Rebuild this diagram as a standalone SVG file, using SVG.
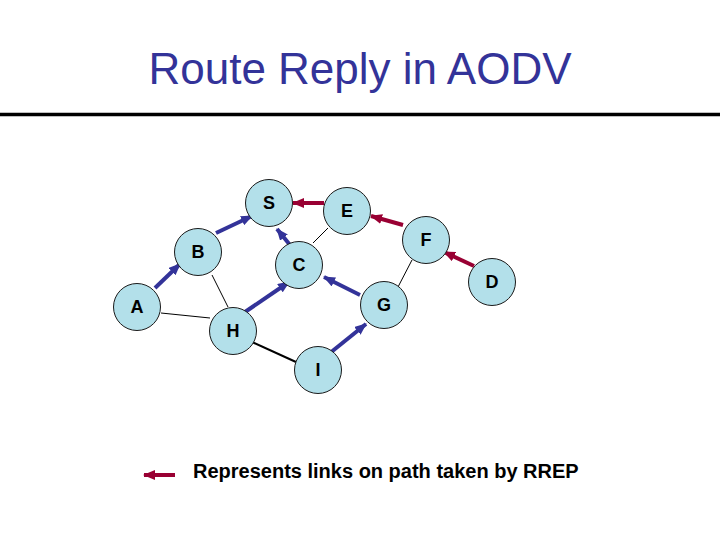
<svg xmlns="http://www.w3.org/2000/svg" width="720" height="540" viewBox="0 0 720 540">
<style>
.node circle{fill:#b3e0ea;stroke:#1a1a1a;stroke-width:1}
.node text{font-family:"Liberation Sans",Arial,sans-serif;font-weight:bold;font-size:18px;fill:#000;text-anchor:middle}
.thin{stroke:#000;stroke-width:1;fill:none}
.blue{stroke:#333399;stroke-width:4;fill:none;marker-end:url(#hb)}
.red{stroke:#990033;stroke-width:4;fill:none;marker-end:url(#hr)}
</style>
<defs>
<marker id="hb" markerUnits="userSpaceOnUse" markerWidth="12" markerHeight="10" refX="11" refY="5" orient="auto"><path d="M0,0 L12,5 L0,10 z" fill="#333399"/></marker>
<marker id="hr" markerUnits="userSpaceOnUse" markerWidth="12" markerHeight="10" refX="11" refY="5" orient="auto"><path d="M0,0 L12,5 L0,10 z" fill="#990033"/></marker>
</defs>
<rect width="720" height="540" fill="#fff"/>
<text x="360" y="84" font-family="Liberation Sans,Arial,sans-serif" font-size="44" fill="#333399" text-anchor="middle">Route Reply in AODV</text>
<line x1="0" y1="114.5" x2="720" y2="114.5" stroke="#000" stroke-width="3.5"/>
<g id="connectors">
<line class="thin" x1="328" y1="228" x2="313" y2="243"/>
<line class="thin" x1="212" y1="275" x2="228" y2="307"/>
<line class="thin" x1="161" y1="313" x2="210" y2="318"/>
<line class="thin" x1="412" y1="260" x2="398" y2="287"/>
<line x1="252" y1="342" x2="296" y2="362" stroke="#000" stroke-width="2"/>
<line class="red" x1="324" y1="203" x2="293" y2="203"/>
<line class="red" x1="403" y1="225" x2="371" y2="216"/>
<line class="red" x1="474" y1="266" x2="444" y2="252"/>
<line class="blue" x1="216" y1="233" x2="252" y2="216"/>
<line class="blue" x1="290" y1="245" x2="277" y2="229"/>
<line class="blue" x1="155" y1="288" x2="180" y2="264"/>
<line class="blue" x1="245" y1="312" x2="289" y2="282"/>
<line class="blue" x1="360" y1="295" x2="324" y2="277"/>
<line class="blue" x1="330" y1="353" x2="366" y2="324"/>
</g>
<g id="S" class="node"><circle cx="269" cy="203" r="23.5"/><text x="269" y="209">S</text></g>
<g id="E" class="node"><circle cx="347" cy="211" r="23.5"/><text x="347" y="217">E</text></g>
<g id="F" class="node"><circle cx="426" cy="240" r="23.5"/><text x="426" y="246">F</text></g>
<g id="B" class="node"><circle cx="198" cy="252" r="23.5"/><text x="198" y="258">B</text></g>
<g id="C" class="node"><circle cx="299" cy="265" r="23.5"/><text x="299" y="271">C</text></g>
<g id="D" class="node"><circle cx="492" cy="282" r="23.5"/><text x="492" y="288">D</text></g>
<g id="A" class="node"><circle cx="137" cy="307" r="23.5"/><text x="137" y="313">A</text></g>
<g id="G" class="node"><circle cx="384" cy="305" r="23.5"/><text x="384" y="311">G</text></g>
<g id="H" class="node"><circle cx="233" cy="331" r="23.5"/><text x="233" y="337">H</text></g>
<g id="I" class="node"><circle cx="318" cy="370" r="23.5"/><text x="318" y="376">I</text></g>
<g id="legend">
<line class="red" x1="175" y1="475" x2="144" y2="475"/>
<text x="193" y="478" font-family="Liberation Sans,Arial,sans-serif" font-weight="bold" font-size="20" fill="#000">Represents links on path taken by RREP</text>
</g>
</svg>
